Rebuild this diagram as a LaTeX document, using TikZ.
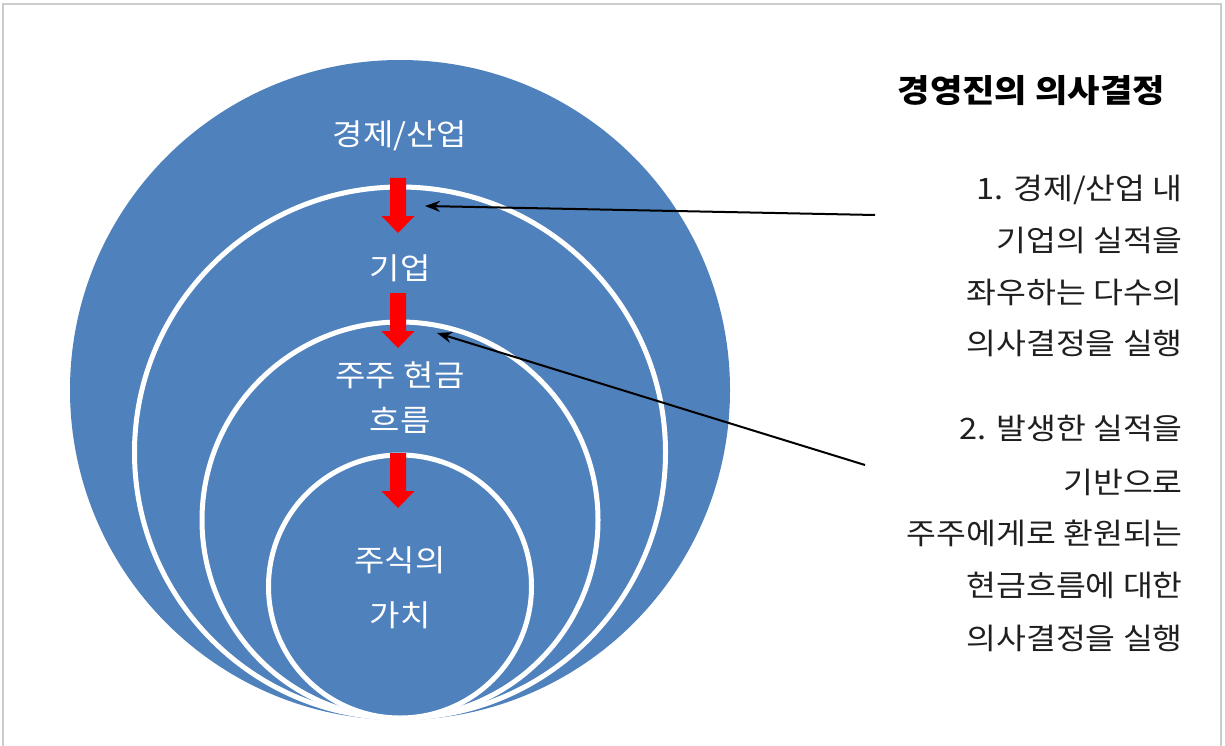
\documentclass[tikz,border=0pt]{standalone}
\usepackage{fontspec}
\setmainfont{Noto Sans CJK KR}[FakeStretch=1.1]
\usetikzlibrary{arrows.meta}
\definecolor{blu}{HTML}{4F81BD}
\definecolor{frm}{HTML}{CCCCCC}
\begin{document}
\begin{tikzpicture}[x=1pt,y=-1pt,
  ring/.style={circle, fill=blu, draw=white, line width=5pt, inner sep=0pt},
  intext/.style={text=white, font=\fontsize{30}{36}\selectfont, inner sep=0pt, anchor=base},
  rtext/.style={text=black!88, font=\fontsize{29.5}{35}\selectfont, inner sep=0pt, anchor=base east},
  ttext/.style={text=black, font=\fontsize{32}{38}\selectfont\bfseries, inner sep=0pt, anchor=base east},
  ptr/.style={-{Stealth[length=15pt,width=11pt]}, line width=2pt, black},
  downarrow/.pic={\fill[red] (-8,0) -- (8,0) -- (8,38) -- (16.5,38) -- (0,55) -- (-16.5,38) -- (-8,38) -- cycle;}
]
\useasboundingbox (0,0) rectangle (1225,746);
\fill[white] (0,0) rectangle (1225,746);
\draw[frm, line width=2pt] (3,746) -- (3,4) -- (1221,4) -- (1221,746);

% nested circles
\node[ring, draw=none, minimum size=660] (c1) at (400,390) {};
\node[ring, minimum size=531] (c2) at (400,452.5) {};
\node[ring, minimum size=396] (c3) at (400,520) {};
\node[ring, minimum size=263] (c4) at (400,586.5) {};

% red arrows
\pic at (398,178) {downarrow};
\pic at (398,293) {downarrow};
\pic at (398,453) {downarrow};

% circle labels
\node[intext] (l1) at (400,146) {경제/산업};
\node[intext] (l2) at (400,279) {기업};
\node[intext] (l3) at (400,386) {주주 현금};
\node[intext] (l4) at (400,431) {흐름};
\node[intext] (l5) at (400,571) {주식의};
\node[intext] (l6) at (400,626) {가치};

% right texts
\node[ttext] (title) at (1165,103) {경영진의 의사결정};
\node[rtext] (p1a) at (1183,199) {1. 경제/산업 내};
\node[rtext] (p1b) at (1183,251) {기업의 실적을};
\node[rtext] (p1c) at (1183,303) {좌우하는 다수의};
\node[rtext] (p1d) at (1183,354) {의사결정을 실행};
\node[rtext] (p2a) at (1183,439) {2. 발생한 실적을};
\node[rtext] (p2b) at (1183,493) {기반으로};
\node[rtext] (p2c) at (1183,544) {주주에게로 환원되는};
\node[rtext] (p2d) at (1183,596) {현금흐름에 대한};
\node[rtext] (p2e) at (1183,649) {의사결정을 실행};

% pointers
\coordinate (s1) at (875,215);
\coordinate (t1) at (425,206);
\coordinate (s2) at (865,465);
\coordinate (t2) at (437,333);
\draw[ptr] (s1) -- (t1);
\draw[ptr] (s2) -- (t2);
\end{tikzpicture}
\end{document}
